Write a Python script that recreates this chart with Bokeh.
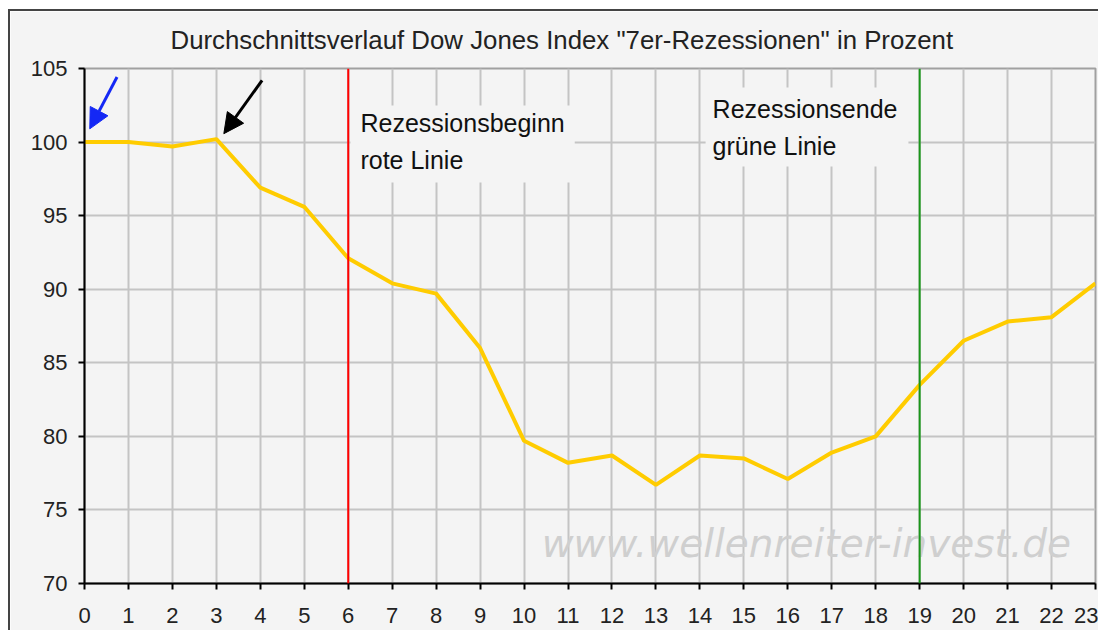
from bokeh.plotting import figure
from bokeh.models import Span, Label, Arrow, NormalHead, Range1d, FixedTicker, Title
from bokeh.embed import file_html
from bokeh.resources import INLINE

# ---- data ----
months = list(range(24))
dow_avg = [100.0, 100.0, 99.7, 100.2, 96.9, 95.6, 92.1, 90.4, 89.7, 86.0,
           79.7, 78.2, 78.7, 76.7, 78.7, 78.5, 77.1, 78.9, 80.0, 83.5,
           86.5, 87.8, 88.1, 90.4]
y_ticks = [70, 75, 80, 85, 90, 95, 100, 105]
x_ticks = list(range(24))
recession_start = 6
recession_end = 19
title_text = 'Durchschnittsverlauf Dow Jones Index "7er-Rezessionen" in Prozent'
label_start = "Rezessionsbeginn\nrote Linie"
label_end = "Rezessionsende\ngrüne Linie"
watermark = "www.wellenreiter-invest.de"

BG = "#f4f4f4"
FONT = "Liberation Sans"

p = figure(width=1090, height=621, output_backend="svg", toolbar_location=None,
           x_range=Range1d(0, 23), y_range=Range1d(70, 105),
           min_border_left=74, min_border_right=5, min_border_top=57, min_border_bottom=49)
p.styles = {"margin-left": "8px", "margin-top": "9px",
            "border-left": "2px solid #444444", "border-top": "2px solid #444444"}

p.background_fill_color = BG
p.border_fill_color = BG
p.outline_line_color = "#a0a0a0"
p.outline_line_width = 2

t = Title(text=title_text, align="left", offset=86, standoff=26, vertical_align="top",
          text_font=FONT, text_font_size="25.8px", text_font_style="normal",
          text_color="#222222")
p.add_layout(t, "above")

for ax in (p.xaxis[0], p.yaxis[0]):
    ax.axis_line_color = "black"
    ax.axis_line_width = 2
    ax.major_tick_line_color = "black"
    ax.major_tick_line_width = 2
    ax.major_tick_out = 6
    ax.major_tick_in = 0
    ax.minor_tick_line_color = None
    ax.major_label_text_font = FONT
    ax.major_label_text_font_size = "22px"
    ax.major_label_text_color = "#222222"

p.xaxis.ticker = FixedTicker(ticks=x_ticks)
p.yaxis.ticker = FixedTicker(ticks=y_ticks)
p.xaxis.major_label_standoff = 18
p.yaxis.major_label_standoff = 11

p.xgrid.ticker = FixedTicker(ticks=x_ticks)
p.ygrid.ticker = FixedTicker(ticks=y_ticks)
p.grid.grid_line_color = "#c4c4c4"
p.grid.grid_line_width = 2

# watermark
p.add_layout(Label(x=10.4, y=72.7, text=watermark, text_font="DejaVu Sans",
                   text_font_style="italic", text_font_size="39px",
                   text_color="#cfcfcf", text_align="left", text_baseline="alphabetic"))

p.add_layout(Span(location=recession_start, dimension="height",
                  line_color="#ff0000", line_width=2))
p.add_layout(Span(location=recession_end, dimension="height",
                  line_color="#1a961a", line_width=2))

p.line(months, dow_avg, line_color="#ffcc00", line_width=4)

p.add_layout(Label(x=6.05, y=102.48, text=label_start, text_font=FONT, text_font_size="25px",
                   text_color="#111111", text_align="left", text_baseline="top",
                   text_line_height=1.32, background_fill_color=BG,
                   padding=dict(left=10, right=10, top=3, bottom=9)))
p.add_layout(Label(x=14.13, y=103.71, text=label_end, text_font=FONT, text_font_size="25px",
                   text_color="#111111", text_align="left", text_baseline="top",
                   text_line_height=1.32, background_fill_color=BG,
                   padding=dict(left=7, right=11, top=8, bottom=6)))

p.add_layout(Arrow(end=NormalHead(size=20, fill_color="#1428f5", line_color="#1428f5"),
                   x_start=0.74, y_start=104.42, x_end=0.12, y_end=100.9,
                   line_color="#1428f5", line_width=3))
p.add_layout(Arrow(end=NormalHead(size=20, fill_color="black", line_color="black"),
                   x_start=4.04, y_start=104.2, x_end=3.17, y_end=100.57,
                   line_color="black", line_width=3))

open("out.html", "w").write(file_html(p, INLINE))
